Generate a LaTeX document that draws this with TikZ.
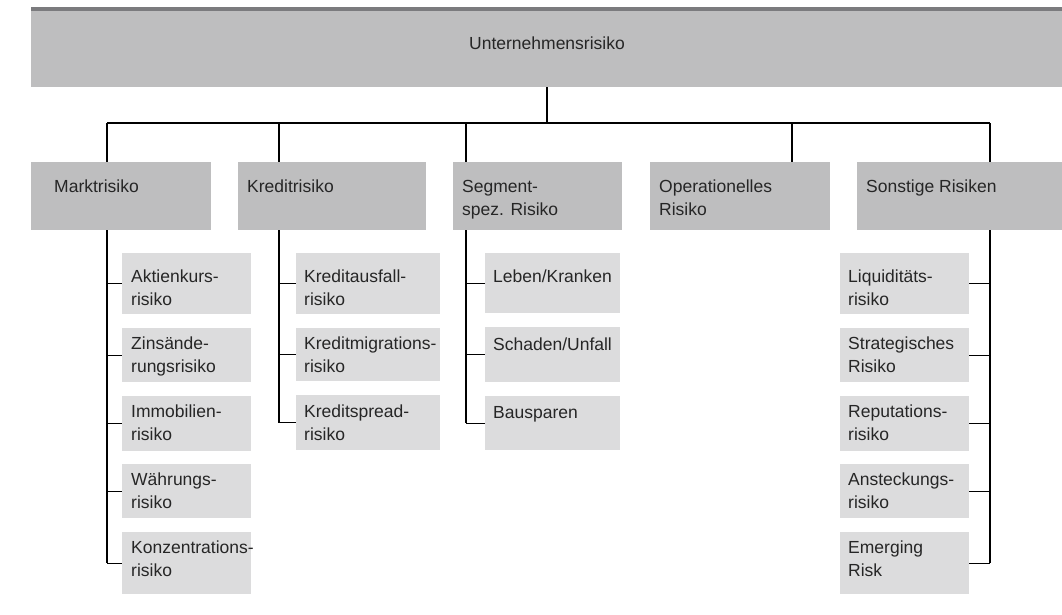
\documentclass[tikz,border=0pt]{standalone}
\usepackage{fontspec}
\setmainfont{Liberation Sans}
\definecolor{darkbar}{HTML}{7B7B7E}
\definecolor{midgray}{HTML}{BEBEBF}
\definecolor{lightgray}{HTML}{DCDCDD}
\definecolor{txtcol}{HTML}{262626}
\newcommand{\ml}[1]{\parbox[t]{220pt}{\raggedright #1}}
\begin{document}
\begin{tikzpicture}[x=1pt,y=-1pt,
  rootbox/.style={rectangle,fill=midgray,draw=none,inner sep=0pt,anchor=north west},
  topbox/.style={rectangle,fill=midgray,draw=none,inner sep=0pt,anchor=north west,minimum height=68pt},
  subbox/.style={rectangle,fill=lightgray,draw=none,inner sep=0pt,anchor=north west},
  txt/.style={inner sep=0pt,anchor=base west,text=txtcol,font=\fontsize{17.5}{23.8}\selectfont},
  conn/.style={draw=black,line width=1.3pt}]
\useasboundingbox (0,0) rectangle (1062,614);

% root
\node[rootbox,minimum width=1031pt,minimum height=80pt] (root) at (31,7) {};
\fill[darkbar] (root.north west) rectangle ([yshift=-4pt]root.north east);
\node[txt,anchor=base] (roott) at (547,49) {Unternehmensrisiko};

% level 2
\node[topbox,minimum width=180pt] (markt) at (31,162) {};
\node[topbox,minimum width=188pt] (kredit) at (238,162) {};
\node[topbox,minimum width=169pt] (segm) at (453,162) {};
\node[topbox,minimum width=180pt] (oper) at (650,162) {};
\node[topbox,minimum width=205pt] (sonst) at (857,162) {};
\node[txt] (markt-t) at (54,192) {\ml{Marktrisiko}};
\node[txt] (kredit-t) at (247,192) {\ml{Kreditrisiko}};
\node[txt] (segm-t) at (462,192) {\ml{Segment-\\spez. Risiko}};
\node[txt] (oper-t) at (659,192) {\ml{Operationelles\\Risiko}};
\node[txt] (sonst-t) at (866,192) {\ml{Sonstige Risiken}};

% Markt children
\node[subbox,minimum width=129pt,minimum height=61pt] (m1) at (122,253) {};
\node[subbox,minimum width=129pt,minimum height=54pt] (m2) at (122,328) {};
\node[subbox,minimum width=129pt,minimum height=55pt] (m3) at (122,396) {};
\node[subbox,minimum width=129pt,minimum height=54pt] (m4) at (122,464) {};
\node[subbox,minimum width=129pt,minimum height=62pt] (m5) at (122,532) {};
\node[txt] (m1t) at (131,282) {\ml{Aktienkurs-\\risiko}};
\node[txt] (m2t) at (131,349) {\ml{Zinsände-\\rungsrisiko}};
\node[txt] (m3t) at (131,417) {\ml{Immobilien-\\risiko}};
\node[txt] (m4t) at (131,485) {\ml{Währungs-\\risiko}};
\node[txt] (m5t) at (131,553) {\ml{Konzentrations-\\risiko}};

% Kredit children
\node[subbox,minimum width=144pt,minimum height=61pt] (k1) at (296,253) {};
\node[subbox,minimum width=144pt,minimum height=53pt] (k2) at (296,328) {};
\node[subbox,minimum width=144pt,minimum height=55pt] (k3) at (296,395) {};
\node[txt] (k1t) at (304,282) {\ml{Kreditausfall-\\risiko}};
\node[txt] (k2t) at (304,349) {\ml{Kreditmigrations-\\risiko}};
\node[txt] (k3t) at (304,417) {\ml{Kreditspread-\\risiko}};

% Segment children
\node[subbox,minimum width=135pt,minimum height=60pt] (s1) at (485,253) {};
\node[subbox,minimum width=135pt,minimum height=55pt] (s2) at (485,327) {};
\node[subbox,minimum width=135pt,minimum height=54pt] (s3) at (485,396) {};
\node[txt] (s1t) at (493,282) {\ml{Leben/Kranken}};
\node[txt] (s2t) at (493,350) {\ml{Schaden/Unfall}};
\node[txt] (s3t) at (493,418) {\ml{Bausparen}};

% Sonstige children
\node[subbox,minimum width=129pt,minimum height=61pt] (o1) at (840,253) {};
\node[subbox,minimum width=129pt,minimum height=54pt] (o2) at (840,328) {};
\node[subbox,minimum width=129pt,minimum height=55pt] (o3) at (840,396) {};
\node[subbox,minimum width=129pt,minimum height=54pt] (o4) at (840,464) {};
\node[subbox,minimum width=129pt,minimum height=62pt] (o5) at (840,532) {};
\node[txt] (o1t) at (848,282) {\ml{Liquiditäts-\\risiko}};
\node[txt] (o2t) at (848,349) {\ml{Strategisches\\Risiko}};
\node[txt] (o3t) at (848,417) {\ml{Reputations-\\risiko}};
\node[txt] (o4t) at (848,485) {\ml{Ansteckungs-\\risiko}};
\node[txt] (o5t) at (848,553) {\ml{Emerging\\Risk}};

% connector coordinates
\coordinate (bus) at (547,123);
\coordinate (dm) at (107,123);
\coordinate (dk) at (279,123);
\coordinate (ds) at (466,123);
\coordinate (dop) at (792,123);
\coordinate (dso) at (990,123);

\draw[conn] (root.south -| bus) -- (bus);
\draw[conn] (dm) -- (dso);
\draw[conn] (dm) -- (dm |- markt.north);
\draw[conn] (dk) -- (dk |- kredit.north);
\draw[conn] (ds) -- (ds |- segm.north);
\draw[conn] (dop) -- (dop |- oper.north);
\draw[conn] (dso) -- (dso |- sonst.north);

% Markt branch
\draw[conn] (dm |- markt.south) -- (dm |- m5.west);
\foreach \n in {m1,m2,m3,m4,m5} \draw[conn] (dm |- \n.west) -- (\n.west);
% Kredit branch
\draw[conn] (dk |- kredit.south) -- (dk |- k3.west);
\foreach \n in {k1,k2,k3} \draw[conn] (dk |- \n.west) -- (\n.west);
% Segment branch
\draw[conn] (ds |- segm.south) -- (ds |- s3.west);
\foreach \n in {s1,s2,s3} \draw[conn] (ds |- \n.west) -- (\n.west);
% Sonstige branch
\draw[conn] (dso |- sonst.south) -- (dso |- o5.east);
\foreach \n in {o1,o2,o3,o4,o5} \draw[conn] (\n.east) -- (dso |- \n.east);
\end{tikzpicture}
\end{document}
